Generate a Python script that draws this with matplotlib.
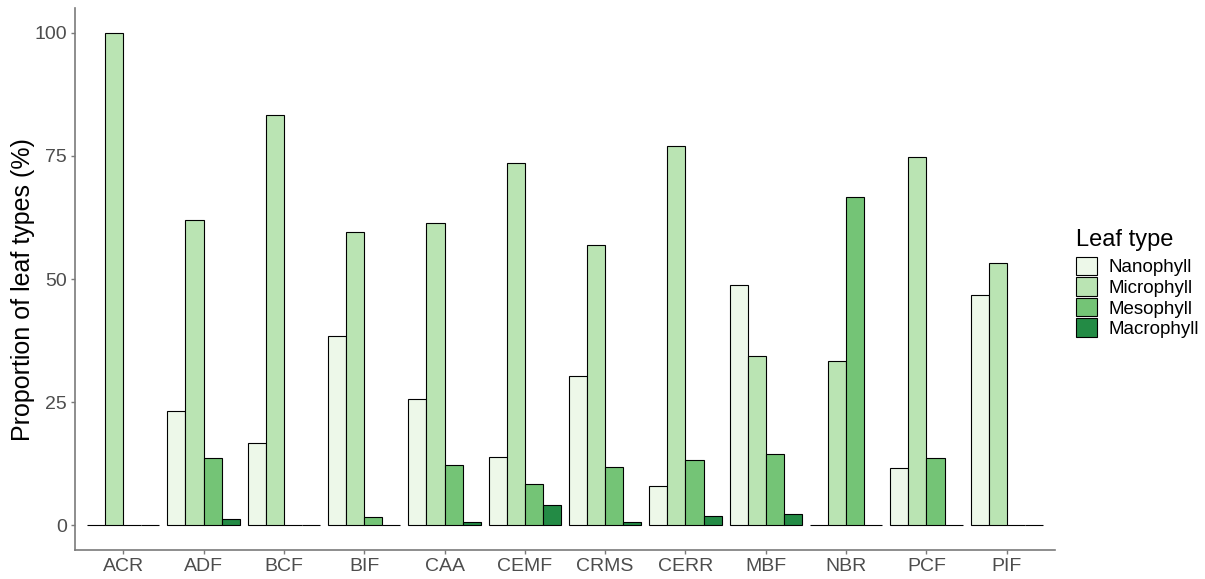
import matplotlib
matplotlib.use("Agg")
import matplotlib.pyplot as plt
from matplotlib.patches import Patch
import numpy as np

plt.rcParams['font.family'] = ['Liberation Sans', 'DejaVu Sans']

sites = ["ACR", "ADF", "BCF", "BIF", "CAA", "CEMF", "CRMS", "CERR", "MBF", "NBR", "PCF", "PIF"]
leaf_types = ["Nanophyll", "Microphyll", "Mesophyll", "Macrophyll"]

nanophyll  = [0.0, 23.2, 16.7, 38.5, 25.6, 13.8, 30.4,  7.9, 48.8,  0.0, 11.6, 46.7]
microphyll = [100.0, 62.0, 83.3, 59.6, 61.3, 73.5, 57.0, 77.0, 34.3, 33.3, 74.7, 53.3]
mesophyll  = [0.0, 13.6, 0.0, 1.7, 12.3, 8.3, 11.8, 13.2, 14.5, 66.7, 13.6, 0.0]
macrophyll = [0.0, 1.2, 0.0, 0.0, 0.75, 4.1, 0.75, 1.8, 2.3, 0.0, 0.0, 0.0]

series = [nanophyll, microphyll, mesophyll, macrophyll]
colors = ["#EDF8E9", "#BAE4B3", "#74C476", "#238B45"]

fig = plt.figure(figsize=(12.05, 5.79), dpi=100)
ax = fig.add_axes([75/1205, 29/579, 980/1205, 542/579])

x = np.arange(len(sites))
width = 0.9 / 4
for i, (vals, col) in enumerate(zip(series, colors)):
    ax.bar(x - 0.45 + width * (i + 0.5), vals, width=width, color=col,
           edgecolor="black", linewidth=0.8)

ax.set_xlim(-0.6, len(sites) - 0.4)
ax.set_ylim(-5, 105)
ax.set_xticks(x)
ax.set_xticklabels(sites)
ax.set_yticks([0, 25, 50, 75, 100])

for s in ["top", "right"]:
    ax.spines[s].set_visible(False)
for s in ["left", "bottom"]:
    ax.spines[s].set_color("#7a7a7a")
    ax.spines[s].set_linewidth(1.2)
ax.tick_params(axis="both", colors="#7a7a7a", labelcolor="#4d4d4d",
               labelsize=14, length=3, width=1.0)
ax.tick_params(axis="x", pad=3)
ax.tick_params(axis="y", pad=3)

ax.set_ylabel("Proportion of leaf types (%)", fontsize=18, color="black", labelpad=-1)
ax.yaxis.label.set_y(0.48)

handles = [Patch(facecolor=c, edgecolor="black", linewidth=0.8) for c in colors]
leg = fig.legend(handles, leaf_types, loc="upper left",
                 bbox_to_anchor=(1063/1205, 1 - 216/579), frameon=False,
                 title="Leaf type", fontsize=13.5, title_fontsize=17,
                 alignment="left", handlelength=1.1, handleheight=1.15,
                 labelspacing=0.05, handletextpad=0.65, borderpad=0.2)
leg._legend_box.sep = 4

fig.savefig("out.png", dpi=100)
